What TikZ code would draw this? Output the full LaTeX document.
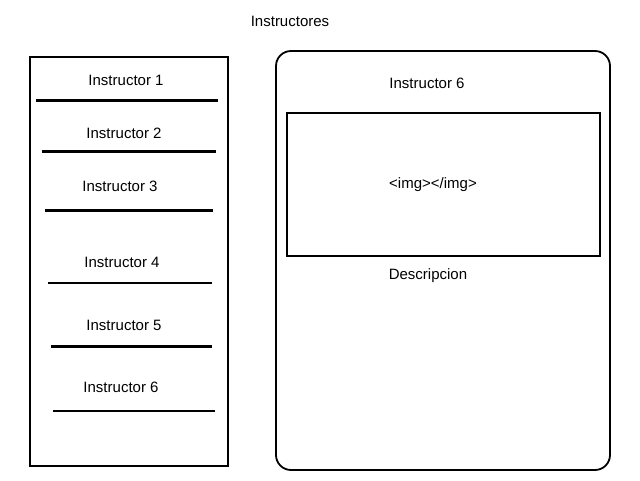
\documentclass[tikz,border=0pt]{standalone}
\usepackage{fontspec}
\setmainfont{Liberation Sans}
\usetikzlibrary{positioning}
\tikzset{
  lbl/.style={font=\fontsize{15}{18}\selectfont,inner sep=0pt},
  frame/.style={draw,line width=1.8pt},
  sepa/.style={line width=3pt},
  sepb/.style={line width=2pt}
}

\begin{document}
\begin{tikzpicture}[x=1pt,y=-1pt]
\useasboundingbox (0,0) rectangle (640,480);
\node[lbl] (title) at (290,21) {Instructores};
% lista de instructores
\draw[frame] (30,57) rectangle (228,466);
\node[lbl] (i1) at (126,80) {Instructor 1};
\node[lbl] (i2) at (124,133) {Instructor 2};
\node[lbl] (i3) at (120,186) {Instructor 3};
\node[lbl] (i4) at (122,262) {Instructor 4};
\node[lbl] (i5) at (124,325) {Instructor 5};
\node[lbl] (i6) at (121,387) {Instructor 6};
\draw[sepa] (36,100.5)--(218,100.5);
\draw[sepa] (42,151)--(216,151);
\draw[sepa] (45,210.5)--(213,210.5);
\draw[sepb] (48,282.5)--(212,282.5);
\draw[sepa] (51,346.5)--(212,346.5);
\draw[sepb] (53,410.5)--(215,410.5);
% detalle
\draw[frame,rounded corners=15pt] (276,51) rectangle (610,470);
\node[lbl] (name) at (427,83) {Instructor 6};
\draw[frame] (287,113) rectangle (600,256);
\node[lbl] (img) at (433,185) {<img></img>};
\node[lbl] (desc) at (428,276) {Descripcion};
\end{tikzpicture}
\end{document}
